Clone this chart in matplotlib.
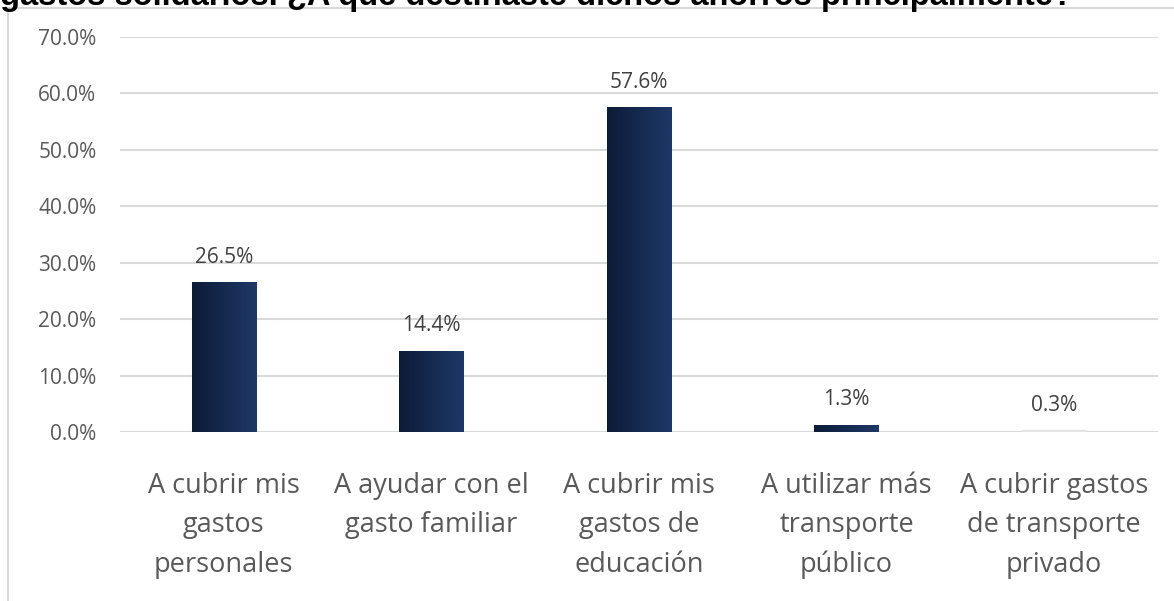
import numpy as np
import matplotlib.pyplot as plt
from matplotlib.colors import LinearSegmentedColormap
from matplotlib.patches import Rectangle
from matplotlib.ticker import PercentFormatter

plt.rcParams['font.family'] = ['Open Sans', 'DejaVu Sans']

titulo = 'gastos solidarios. ¿A qué destinaste dichos ahorros principalmente?'
categorias = ['A cubrir mis\ngastos\npersonales',
              'A ayudar con el\ngasto familiar',
              'A cubrir mis\ngastos de\neducación',
              'A utilizar más\ntransporte\npúblico',
              'A cubrir gastos\nde transporte\nprivado']
porcentajes = [0.265, 0.144, 0.576, 0.013, 0.003]
etiquetas = ['26.5%', '14.4%', '57.6%', '1.3%', '0.3%']

gris = '#595959'
fig = plt.figure(figsize=(11.74, 6.01), dpi=100)

# marco del grafico
fig.add_artist(Rectangle((8 / 1174, -0.1), 1.2, 1 - 8 / 601 + 0.1,
                         transform=fig.transFigure, fill=False,
                         edgecolor='#d9d9d9', linewidth=1.5))
fig.text(0.0, 1 - 5 / 601, titulo, fontsize=23.5, fontweight='bold',
         family=['Liberation Sans', 'DejaVu Sans'], va='baseline', ha='left')

ax = fig.add_axes([120 / 1174, (601 - 432) / 601, 1038 / 1174, 395 / 601])
x = np.arange(len(categorias))
barras = ax.bar(x, porcentajes, width=0.31, color='none', zorder=2)

degradado = LinearSegmentedColormap.from_list('azul', ['#0c1c38', '#1e3867'])
for i, b in enumerate(barras):
    x0, y0 = b.get_x(), b.get_y()
    w, h = b.get_width(), b.get_height()
    if i == len(barras) - 1:
        ax.add_patch(Rectangle((x0, y0), w, h, color='#e3e3e3', zorder=2))
    else:
        im = ax.imshow(np.linspace(0, 1, 64).reshape(1, -1), cmap=degradado,
                       extent=(x0, x0 + w, y0, y0 + h), aspect='auto', zorder=2)
        im.set_clip_path(b)
    ax.annotate(etiquetas[i], (x0 + w / 2, h), xytext=(0, 14),
                textcoords='offset points', ha='center', va='baseline',
                fontsize=15, color='#404040')

ax.set_xlim(-0.5, len(categorias) - 0.5)
ax.set_ylim(0, 0.70)
ax.set_yticks(np.arange(0, 0.71, 0.1))
ax.yaxis.set_major_formatter(PercentFormatter(1.0, decimals=1))
ax.grid(axis='y', color='#d9d9d9', linewidth=1.5, zorder=0)
ax.set_axisbelow(True)
for s in ax.spines.values():
    s.set_visible(False)
ax.tick_params(axis='y', length=0, pad=17, labelsize=15, labelcolor=gris)
ax.tick_params(axis='x', length=0, pad=28.5, labelsize=19.5, labelcolor=gris)
ax.set_xticks(x)
ax.set_xticklabels(categorias, linespacing=1.55)

fig.savefig('out.png', dpi=100)
